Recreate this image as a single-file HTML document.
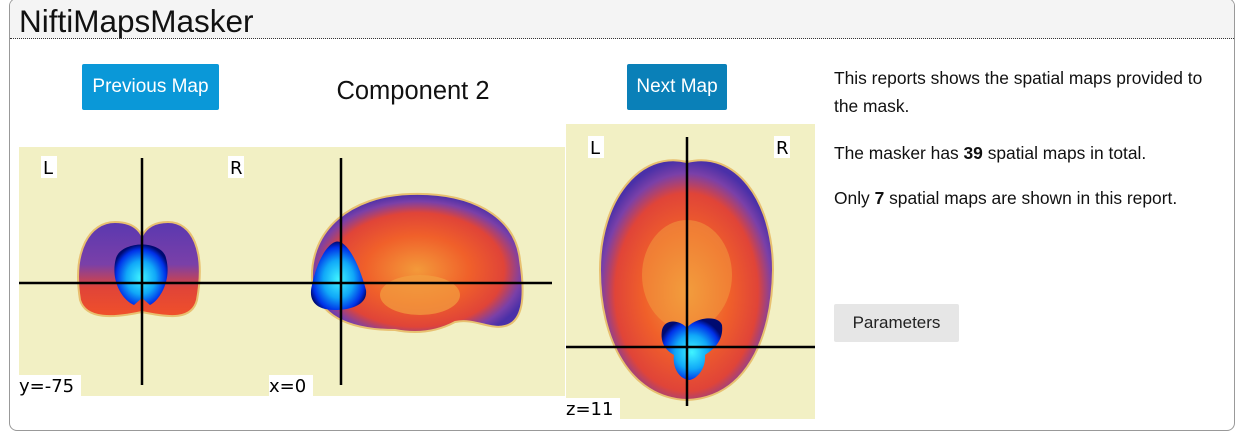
<!DOCTYPE html>
<html><head><meta charset="utf-8"><style>
body{margin:0;width:1249px;height:439px;background:#fff;font-family:"Liberation Sans",sans-serif;overflow:hidden;position:relative}
.box{position:absolute;left:9px;top:-2px;width:1224px;height:431px;border:1px solid #999;border-radius:8px;overflow:hidden}
.hdr{position:absolute;left:0;top:0;width:100%;height:39px;background:#f4f4f4;border-bottom:1px dotted #333}
.title{position:absolute;left:9px;top:4px;font-size:31.5px;color:#111}
.btn{position:absolute;color:#fff;font-size:19px;display:flex;align-items:center;justify-content:center;border-radius:2px}
.t{position:absolute;left:834px;font-size:17.4px;color:#111;line-height:28px}
</style></head><body>
<div class="box">
<div class="hdr"><div class="title">NiftiMapsMasker</div></div>
</div>
<div class="btn" style="left:82px;top:64px;width:137px;height:46px;background:#0a98d8">Previous Map</div>
<div style="position:absolute;left:313px;top:77px;width:200px;text-align:center;font-size:25.5px;color:#111">Component 2</div>
<div class="btn" style="left:627px;top:64px;width:100px;height:46px;background:#0a80b8">Next Map</div>
<div class="t" style="top:64px">This reports shows the spatial maps provided to<br>the mask.</div>
<div class="t" style="top:139px">The masker has <b>39</b> spatial maps in total.</div>
<div class="t" style="top:184px">Only <b>7</b> spatial maps are shown in this report.</div>
<div class="btn" style="left:834px;top:304px;width:125px;height:38px;background:#e6e6e6;color:#222;font-size:17px">Parameters</div>
<svg width="1249" height="439" style="position:absolute;left:0;top:0">
<defs>
<radialGradient id="br" cx="50%" cy="55%" r="55%"><stop offset="0" stop-color="#f39a3a"/><stop offset="0.45" stop-color="#f0602a"/><stop offset="0.75" stop-color="#e04438"/><stop offset="0.9" stop-color="#7a40a8"/><stop offset="1" stop-color="#4a30a8"/></radialGradient>
<linearGradient id="brc" x1="0" y1="0" x2="0" y2="1"><stop offset="0" stop-color="#5a38b0"/><stop offset="0.45" stop-color="#7a40a8"/><stop offset="0.7" stop-color="#e04438"/><stop offset="1" stop-color="#f0502a"/></linearGradient>
<radialGradient id="bl" cx="50%" cy="55%" r="55%"><stop offset="0" stop-color="#40f4ff"/><stop offset="0.5" stop-color="#10a8f8"/><stop offset="0.85" stop-color="#0030e8"/><stop offset="1" stop-color="#000a70"/></radialGradient>
</defs>
<rect x="19" y="147" width="250" height="249" fill="#f2f0c4"/>
<rect x="269" y="147" width="296" height="249" fill="#f2f0c4"/>
<rect x="566" y="124" width="249" height="295" fill="#f2f0c4"/>
<path d="M80 300 C72 250 90 222 115 222 C130 222 138 228 142 236 C146 228 154 222 168 222 C192 222 206 250 197 300 C192 320 170 318 142 312 C114 318 86 320 80 300Z" fill="url(#brc)" stroke="#e8c070" stroke-width="2"/>
<path d="M116 258 C122 240 162 240 166 258 C172 280 160 300 150 305 L142 298 L134 305 C122 300 110 280 116 258Z" fill="url(#bl)"/>
<path d="M312 280 C310 230 350 196 410 194 C470 192 515 215 520 260 C526 300 522 322 505 326 C490 330 475 318 455 322 C440 330 420 335 395 330 C360 330 318 322 312 280Z" fill="url(#br)" stroke="#e8c070" stroke-width="2"/>
<ellipse cx="420" cy="295" rx="40" ry="20" fill="#f2a040" opacity="0.7"/>
<path d="M335 242 C345 238 358 260 366 290 C368 305 350 310 335 310 C315 310 308 300 312 285 C316 265 325 246 335 242Z" fill="url(#bl)"/>
<path d="M687 162 C640 150 600 200 600 270 C600 340 630 398 687 400 C745 398 772 340 773 270 C773 200 735 150 687 162Z" fill="url(#br)" stroke="#e8c070" stroke-width="2"/>
<ellipse cx="687" cy="275" rx="45" ry="55" fill="#f2a040" opacity="0.5"/>
<path d="M662 330 C665 318 680 320 687 328 C694 318 718 314 722 325 C724 342 712 350 705 355 C706 368 698 378 690 380 C680 380 672 368 674 355 C665 350 660 342 662 330Z" fill="url(#bl)"/>
<g stroke="#000" stroke-width="2.5">
<line x1="142" y1="158" x2="142" y2="385"/><line x1="19" y1="283" x2="552" y2="283"/>
<line x1="341" y1="158" x2="341" y2="385"/>
<line x1="687" y1="137" x2="687" y2="406"/><line x1="566" y1="347" x2="815" y2="347"/>
</g>
<g font-family="DejaVu Sans,sans-serif" font-size="18" fill="#000">
<rect x="41" y="156" width="16" height="22" fill="#fff"/><text x="43" y="174">L</text>
<rect x="228" y="156" width="16" height="22" fill="#fff"/><text x="230" y="174">R</text>
<rect x="19" y="375" width="62" height="22" fill="#fff"/><text x="19" y="392">y=-75</text>
<rect x="269" y="375" width="44" height="22" fill="#fff"/><text x="269" y="392">x=0</text>
<rect x="588" y="136" width="16" height="22" fill="#fff"/><text x="590" y="154">L</text>
<rect x="774" y="136" width="16" height="22" fill="#fff"/><text x="776" y="154">R</text>
<rect x="566" y="398" width="54" height="22" fill="#fff"/><text x="566" y="415">z=11</text>
</g>
</svg>
</body></html>
